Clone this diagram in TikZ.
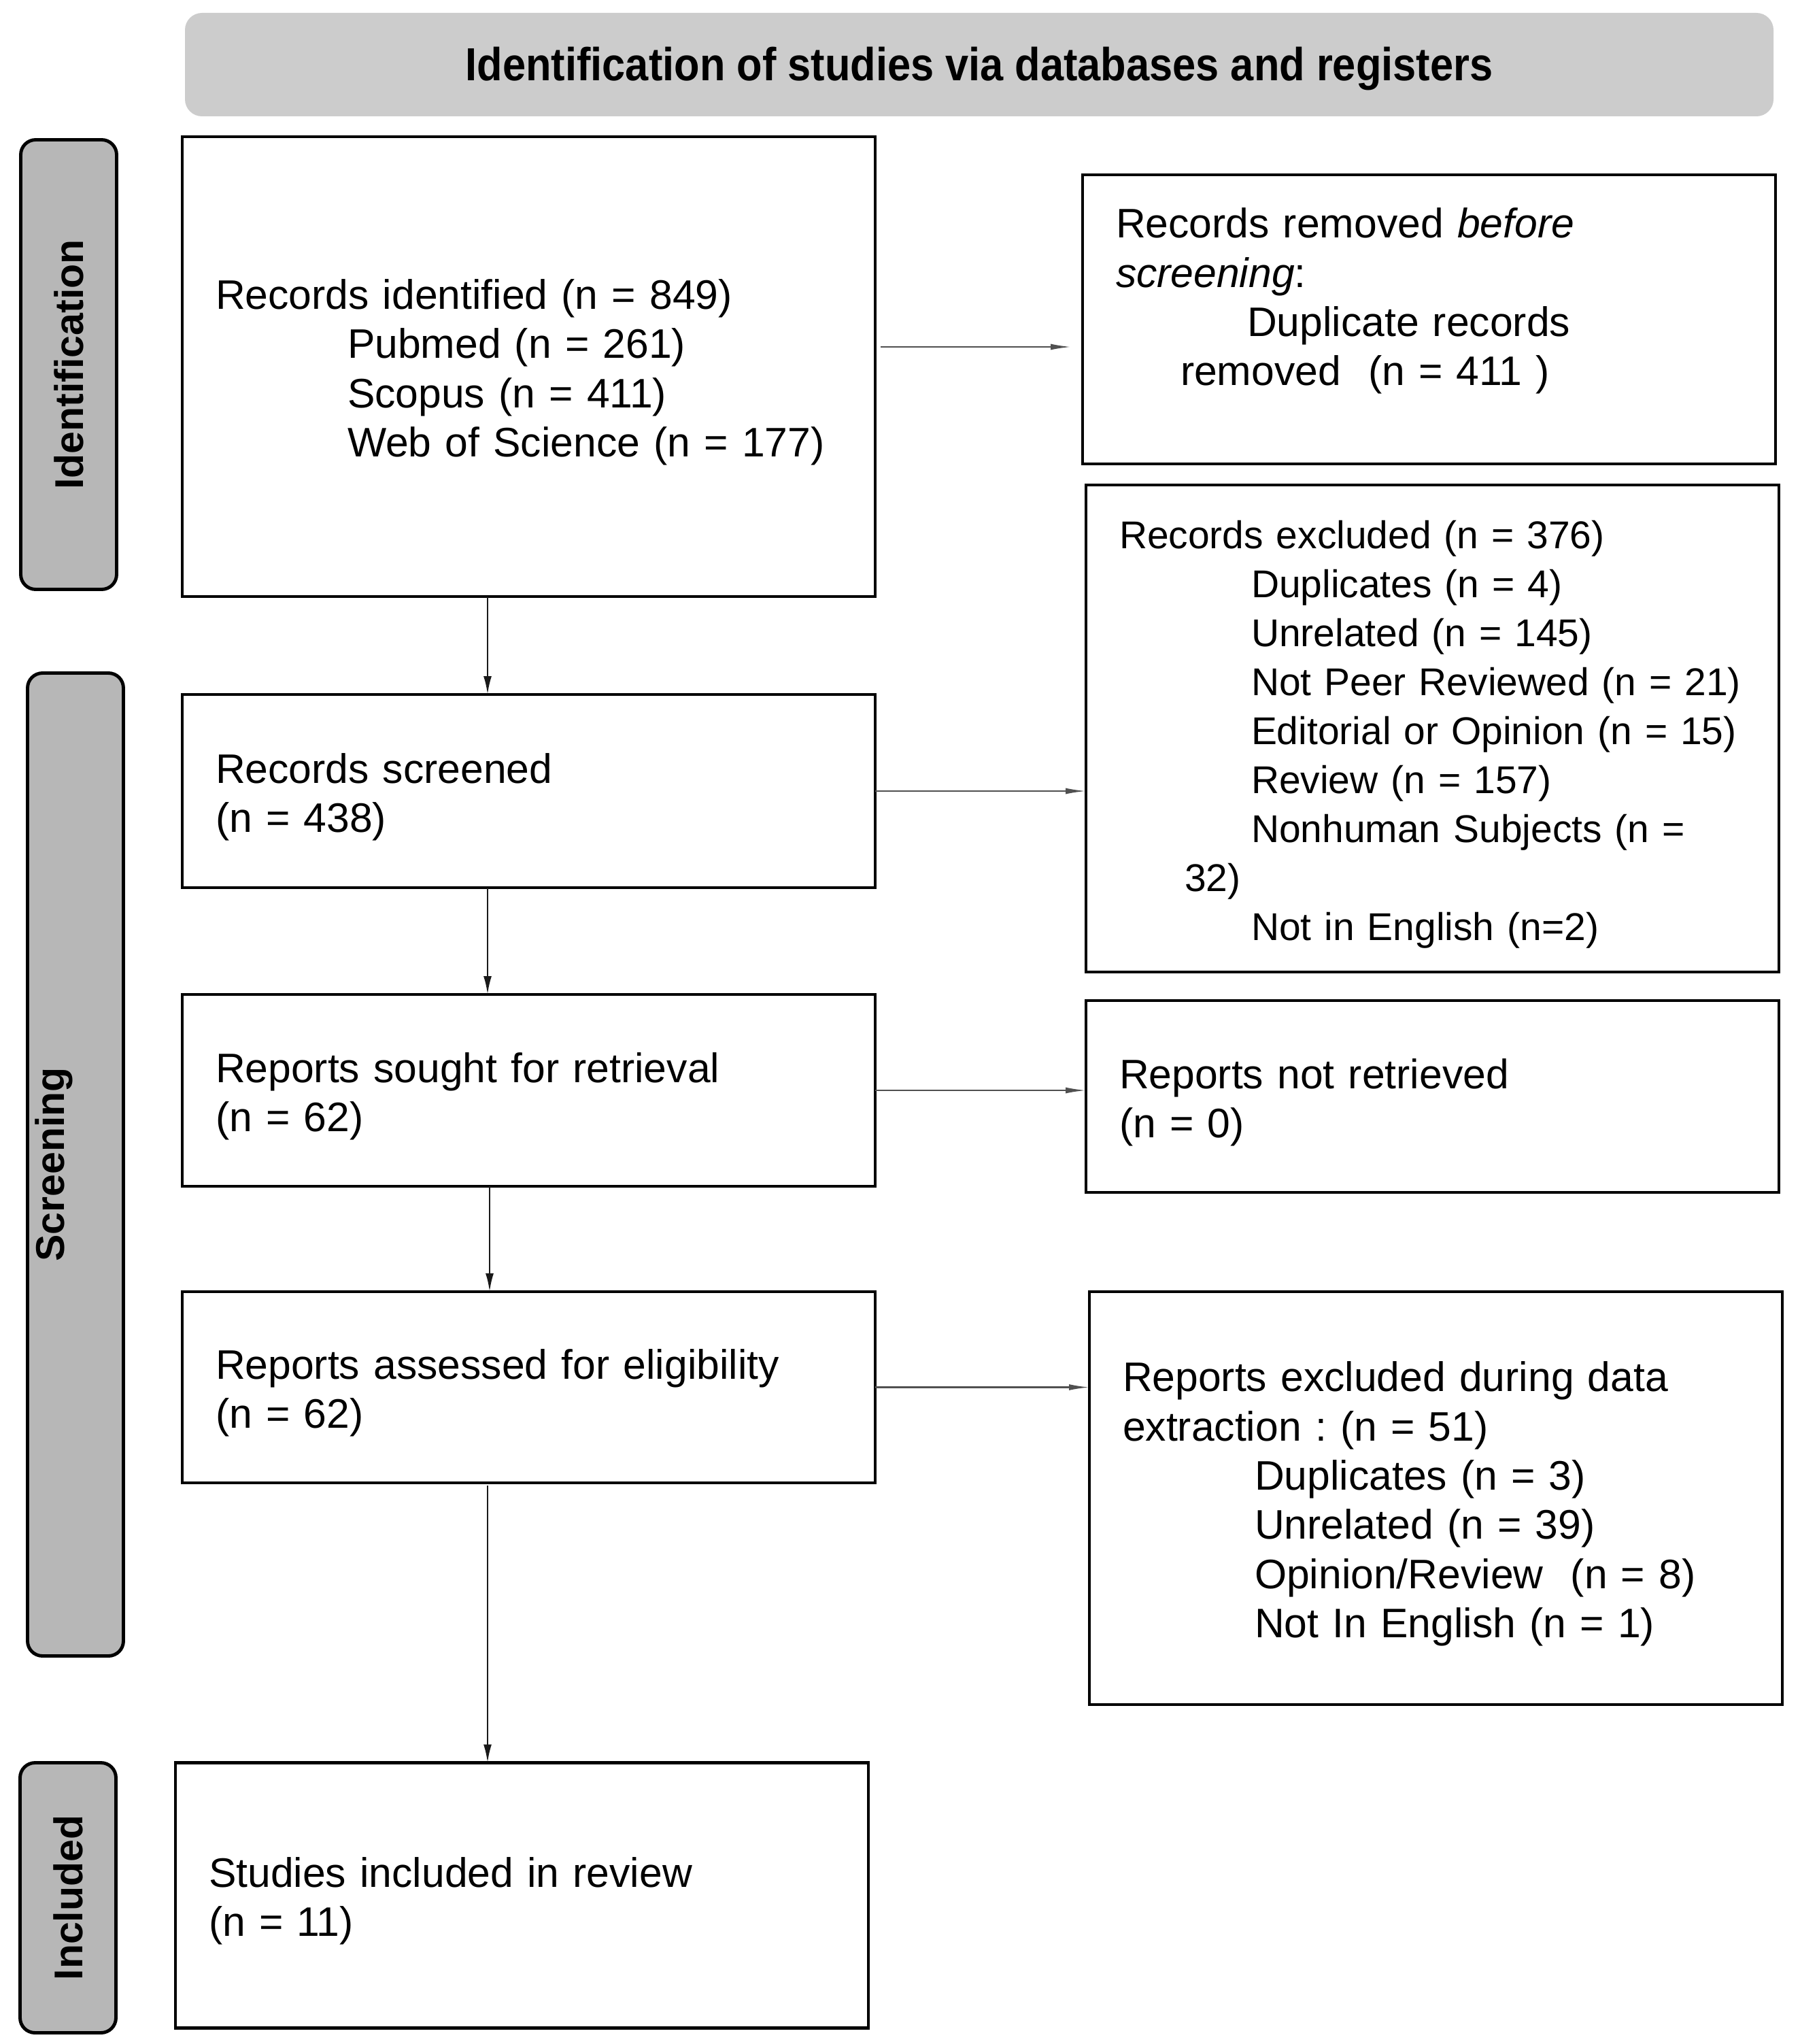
\documentclass[tikz,border=0pt]{standalone}
\usepackage{fontspec}
\setmainfont{Liberation Sans}
\newfontfamily\hdrfont[FakeStretch=0.9]{Liberation Sans}
\usetikzlibrary{arrows.meta}
\frenchspacing
\definecolor{hdrgray}{HTML}{CCCCCC}
\definecolor{labgray}{HTML}{B7B7B7}
\definecolor{linegray}{HTML}{505050}
\tikzset{
  box/.style={draw=black, line width=1.4pt, outer sep=0pt, text width=9.21cm,
    inner xsep=0.49cm, inner ysep=0pt, align=left, anchor=center,
    font=\fontsize{17.25}{20.6}\selectfont\frenchspacing,
    execute at end node={\par\vspace*{-0.17cm}}},
  sidebox/.style={draw=black, line width=1.4pt, fill=labgray, rounded corners=0.22cm,
    minimum width=1.41cm, outer sep=0pt, inner sep=0pt},
  sidetext/.style={rotate=90, font=\fontsize{16.8}{20}\selectfont\bfseries, inner sep=0pt},
  hdr/.style={fill=hdrgray, rounded corners=0.25cm, minimum width=23.36cm, minimum height=1.52cm,
    inner sep=0pt},
  hdrtext/.style={inner sep=0pt, font=\hdrfont\fontsize{19.4}{22}\selectfont\bfseries},
  varr/.style={draw=black!90, line width=0.75pt, -{Latex[length=0.27cm,width=0.12cm]}},
  harr/.style={draw=linegray, line width=0.6pt, -{Latex[length=0.3cm,width=0.09cm]}}
}
\begin{document}
\begin{tikzpicture}
\useasboundingbox (0,0) rectangle (26.46,-30.05);

% header
\node[hdr] (head) at (14.40,-0.95) {};
\node[hdrtext] (headt) at ([yshift=-0.06cm]head.center) {Identification of studies via databases and registers};

% side labels
\node[sidebox, minimum height=6.61cm] (labid) at (1.01,-5.36) {};
\node[sidetext] (labidt) at (labid.center) {Identification};
\node[sidebox, minimum height=14.45cm] (labscr) at (1.11,-17.12) {};
\node[sidetext] (labscrt) at ([xshift=-0.32cm]labscr.center) {Screening};
\node[sidebox, minimum height=3.97cm] (labinc) at (1.00,-27.90) {};
\node[sidetext] (labinct) at (labinc.center) {Included};

% left column
\node[box, minimum height=6.76cm] (ident) at (7.775,-5.39) {Records identified (n = 849)\\
\hspace*{1.94cm}Pubmed (n = 261)\\
\hspace*{1.94cm}Scopus (n = 411)\\
\hspace*{1.94cm}Web of Science (n = 177)};

\node[box, minimum height=2.84cm] (scr) at (7.775,-11.63) {Records screened\\(n = 438)};
\node[box, minimum height=2.82cm] (sought) at (7.775,-16.03) {Reports sought for retrieval\\(n = 62)};
\node[box, minimum height=2.81cm] (assess) at (7.775,-20.395) {Reports assessed for eligibility\\(n = 62)};
\node[box, minimum height=3.90cm] (incl) at (7.675,-27.865) {Studies included in review\\(n = 11)};

% right column
\node[box, minimum height=4.25cm, execute at end node={\par\vspace*{0.11cm}}] (remov) at (21.015,-4.695) {Records removed \textit{before}\\
\textit{screening}:\\
\hspace*{1.93cm}Duplicate records\\
\hspace*{0.95cm}removed\ \ (n = 411\ )\\
\mbox{}};

\node[box, minimum height=7.16cm, font=\fontsize{16.2}{20.5}\selectfont\frenchspacing] (excl) at (21.065,-10.71) {Records excluded (n = 376)\\
\hspace*{1.94cm}Duplicates (n = 4)\\
\hspace*{1.94cm}Unrelated (n = 145)\\
\hspace*{1.94cm}\mbox{Not Peer Reviewed (n = 21)}\\
\hspace*{1.94cm}\mbox{Editorial or Opinion (n = 15)}\\
\hspace*{1.94cm}Review (n = 157)\\
\hspace*{1.94cm}Nonhuman Subjects (n =\\
\hspace*{0.96cm}32)\\
\hspace*{1.94cm}Not in English (n=2)};

\node[box, minimum height=2.82cm] (notret) at (21.065,-16.12) {Reports not retrieved\\(n = 0)};

\node[box, minimum height=6.07cm] (repx) at (21.115,-22.025) {Reports excluded during data\\
extraction : (n = 51)\\
\hspace*{1.94cm}Duplicates (n = 3)\\
\hspace*{1.94cm}Unrelated (n = 39)\\
\hspace*{1.94cm}Opinion/Review\ \ (n = 8)\\
\hspace*{1.94cm}Not In English (n = 1)};

% connectors
\coordinate (col) at (7.17,0);
\draw[varr] (ident.south -| col) -- (scr.north -| col);
\draw[varr] (scr.south -| col) -- (sought.north -| col);
\draw[varr] ([xshift=0.03cm]sought.south -| col) -- ([xshift=0.03cm]assess.north -| col);
\draw[varr] ([yshift=-0.04cm]assess.south -| col) -- (incl.north -| col);

\draw[harr, shorten <=0.08cm, shorten >=0.17cm] ([yshift=0.29cm]ident.east) -- ([yshift=0.29cm]ident.east -| remov.west);
\draw[harr] (scr.east) -- (scr.east -| excl.west);
\draw[harr] (sought.east) -- (sought.east -| notret.west);
\draw[harr] (assess.east) -- (assess.east -| repx.west);
\end{tikzpicture}
\end{document}
